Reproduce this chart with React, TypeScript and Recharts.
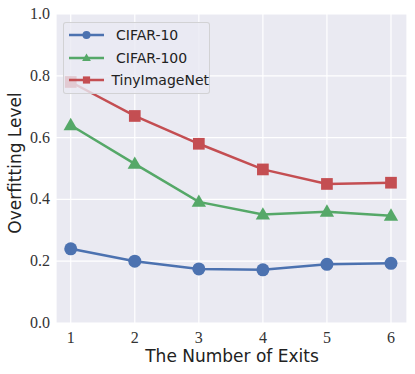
import { LineChart, Line, XAxis, YAxis, CartesianGrid } from 'recharts';

const exits = [1, 2, 3, 4, 5, 6];
const cifar10 = [0.24, 0.2, 0.175, 0.172, 0.19, 0.193];
const cifar100 = [0.64, 0.515, 0.392, 0.351, 0.36, 0.347];
const tinyImageNet = [0.78, 0.67, 0.58, 0.497, 0.45, 0.454];
const yTicks = [0, 0.2, 0.4, 0.6, 0.8, 1.0];

const data = exits.map((x, i) => ({
  x,
  cifar10: cifar10[i],
  cifar100: cifar100[i],
  tiny: tinyImageNet[i],
}));

const series = [
  { key: 'cifar10', name: 'CIFAR-10', color: '#4c72b0', marker: 'circle' },
  { key: 'cifar100', name: 'CIFAR-100', color: '#55a868', marker: 'triangle' },
  { key: 'tiny', name: 'TinyImageNet', color: '#c44e52', marker: 'square' },
];

const Marker = ({ cx, cy, type, color, s }: any) => {
  if (cx == null || cy == null) return null;
  if (type === 'circle') return <circle cx={cx} cy={cy} r={s * 0.5} fill={color} />;
  if (type === 'triangle') {
    const h = s * 0.95;
    return (
      <polygon
        points={`${cx},${cy - h * 0.6} ${cx - s * 0.55},${cy + h * 0.4} ${cx + s * 0.55},${cy + h * 0.4}`}
        fill={color}
      />
    );
  }
  return <rect x={cx - s * 0.45} y={cy - s * 0.45} width={s * 0.9} height={s * 0.9} fill={color} />;
};

const tickFont = '"Liberation Serif", serif';
const labelFont = '"DejaVu Sans", sans-serif';

const XTick = ({ x, y, payload }: any) => (
  <text x={x} y={y + 13} textAnchor="middle" fontFamily={tickFont} fontSize={16} fill="#333">
    {payload.value}
  </text>
);

const YTick = ({ x, y, payload }: any) => (
  <text x={x} y={y + 5} textAnchor="end" fontFamily={tickFont} fontSize={16} fill="#333">
    {Number(payload.value).toFixed(1)}
  </text>
);

export default function App() {
  return (
    <div style={{ position: 'absolute', left: 0, top: 0, width: 415, height: 374, background: '#fff' }}>
      <LineChart width={415} height={374} data={data} margin={{ top: 14, right: 8, left: 0, bottom: 0 }}>
        <CartesianGrid fill="#eaeaf2" stroke="#ffffff" strokeWidth={1.2} />
        <XAxis
          type="number"
          dataKey="x"
          domain={[0.77, 6.25]}
          ticks={exits}
          axisLine={false}
          tickLine={false}
          tickSize={0}
          tickMargin={7}
          height={51}
          tick={<XTick />}
          label={{
            content: () => (
              <text x={232} y={362} textAnchor="middle" fontFamily={labelFont} fontSize={17} fill="#222">
                The Number of Exits
              </text>
            ),
          }}
        />
        <YAxis
          type="number"
          domain={[0, 1]}
          ticks={yTicks}
          axisLine={false}
          tickLine={false}
          tickSize={0}
          tickMargin={6}
          width={56}
          tick={<YTick />}
          label={{
            content: () => (
              <text
                x={21}
                y={163}
                transform="rotate(-90 21 163)"
                textAnchor="middle"
                fontFamily={labelFont}
                fontSize={17}
                fill="#222"
              >
                Overfitting Level
              </text>
            ),
          }}
        />
        {series.map((s) => (
          <Line
            key={s.key}
            type="linear"
            dataKey={s.key}
            name={s.name}
            stroke={s.color}
            strokeWidth={2.5}
            isAnimationActive={false}
            dot={(p: any) => (
              <Marker key={`${s.key}-${p.index}`} cx={p.cx} cy={p.cy} type={s.marker} color={s.color} s={13} />
            )}
            activeDot={false}
          />
        ))}
      </LineChart>
      <div
        style={{
          position: 'absolute',
          left: 63,
          top: 22,
          width: 147,
          height: 72,
          background: 'rgba(234,234,242,0.8)',
          border: '1px solid rgba(204,204,204,0.8)',
          borderRadius: 3,
          boxSizing: 'border-box',
          paddingTop: 1,
        }}
      >
        {series.map((s) => (
          <div key={s.key} style={{ display: 'flex', alignItems: 'center', height: 22.5 }}>
            <svg width={52} height={20} style={{ display: 'block' }}>
              <line x1={5} y1={10} x2={40} y2={10} stroke={s.color} strokeWidth={2.5} />
              <Marker cx={22.5} cy={10} type={s.marker} color={s.color} s={8} />
            </svg>
            <span style={{ fontFamily: labelFont, fontSize: 14, color: '#222' }}>{s.name}</span>
          </div>
        ))}
      </div>
    </div>
  );
}
